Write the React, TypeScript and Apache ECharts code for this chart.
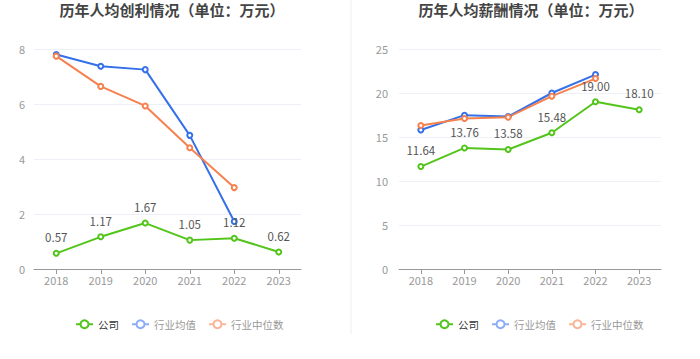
import React, { useEffect, useRef } from "react";
import * as echarts from "echarts";

const years = ["2018", "2019", "2020", "2021", "2022", "2023"];
const profitCompany = [0.57, 1.17, 1.67, 1.05, 1.12, 0.62];
const profitIndustryMean = [7.8, 7.37, 7.25, 4.86, 1.73, null];
const profitIndustryMedian = [7.74, 6.64, 5.93, 4.41, 2.96, null];
const salaryCompany = [11.64, 13.76, 13.58, 15.48, 19.0, 18.1];
const salaryIndustryMean = [15.8, 17.48, 17.32, 20.0, 22.09, null];
const salaryIndustryMedian = [16.3, 17.1, 17.25, 19.64, 21.64, null];

const GREEN = "#52c41a";
const BLUE = "#3470e8";
const ORANGE = "#f6814f";
const FONT = "'Noto Sans CJK SC', 'Noto Sans', sans-serif";

export default function App() {
  const ref = useRef<HTMLDivElement>(null);
  useEffect(() => {
    if (!ref.current) return;
    const chart = echarts.init(ref.current, undefined, { renderer: "svg" });
    const mkAxisX = (gridIndex: number) => ({
      type: "category",
      gridIndex,
      data: years,
      boundaryGap: true,
      axisLine: { lineStyle: { color: "#999" } },
      axisTick: { show: true, alignWithLabel: true, lineStyle: { color: "#999" } },
      axisLabel: { color: "#999", fontSize: 11, margin: 5, fontFamily: FONT },
    });
    const mkAxisY = (gridIndex: number, max: number, interval: number, margin: number) => ({
      type: "value",
      gridIndex,
      min: 0,
      max,
      interval,
      axisLine: { show: false },
      axisTick: { show: false },
      axisLabel: { color: "#999", fontSize: 11, margin, fontFamily: FONT },
      splitLine: { lineStyle: { color: "#eef0f7" } },
    });
    const line = (name: string, data: (number | null)[], color: string, idx: number, label: boolean) => ({
      type: "line",
      name,
      data,
      xAxisIndex: idx,
      yAxisIndex: idx,
      symbol: "emptyCircle",
      symbolSize: 5,
      showSymbol: true,
      lineStyle: { color, width: 2 },
      itemStyle: { color, borderWidth: 1.5 },
      z: label ? 3 : 2,
      label: label
        ? { show: true, position: "top", distance: 7, color: "#555", fontSize: 11.5, fontFamily: FONT, formatter: (p: any) => Number(p.value).toFixed(2) }
        : { show: false },
    });
    const legendData = [
      { name: "公司", textStyle: { color: "#333" }, itemStyle: { color: GREEN }, lineStyle: { color: GREEN } },
      { name: "行业均值", textStyle: { color: "#999" }, itemStyle: { color: "#8cadf5" }, lineStyle: { color: "#8cadf5" } },
      { name: "行业中位数", textStyle: { color: "#999" }, itemStyle: { color: "#f9b597" }, lineStyle: { color: "#f9b597" } },
    ];
    const mkLegend = (left: number) => ({
      left,
      top: 314,
      itemWidth: 17,
      itemHeight: 10,
      itemGap: 12,
      itemTextGap: 5,
      data: legendData,
      textStyle: { fontSize: 10.5, fontFamily: FONT },
      selectedMode: false,
    });
    chart.setOption({
      animation: false,
      textStyle: { fontFamily: FONT },
      title: [
        { text: "历年人均创利情况（单位：万元）", left: 167, textAlign: "center", top: -3, textStyle: { fontSize: 15, fontWeight: "bold", color: "#444", fontFamily: FONT } },
        { text: "历年人均薪酬情况（单位：万元）", left: 526, textAlign: "center", top: -3, textStyle: { fontSize: 15, fontWeight: "bold", color: "#444", fontFamily: FONT } },
      ],
      legend: [mkLegend(70), mkLegend(430)],
      grid: [
        { left: 34, top: 49, width: 267, height: 220 },
        { left: 399, top: 49, width: 262, height: 220 },
      ],
      xAxis: [mkAxisX(0), mkAxisX(1)],
      yAxis: [mkAxisY(0, 8, 2, 9), mkAxisY(1, 25, 5, 11)],
      graphic: [
        { type: "line", shape: { x1: 351, y1: 0, x2: 351, y2: 334 }, style: { stroke: "#eeeeee", lineWidth: 1 } },
      ],
      series: [
        line("行业均值", profitIndustryMean, BLUE, 0, false),
        line("行业中位数", profitIndustryMedian, ORANGE, 0, false),
        line("公司", profitCompany, GREEN, 0, true),
        line("行业均值", salaryIndustryMean, BLUE, 1, false),
        line("行业中位数", salaryIndustryMedian, ORANGE, 1, false),
        line("公司", salaryCompany, GREEN, 1, true),
      ],
    });
    return () => chart.dispose();
  }, []);
  return <div ref={ref} style={{ position: "fixed", left: 0, top: 0, width: 700, height: 359, background: "#fff" }} />;
}
